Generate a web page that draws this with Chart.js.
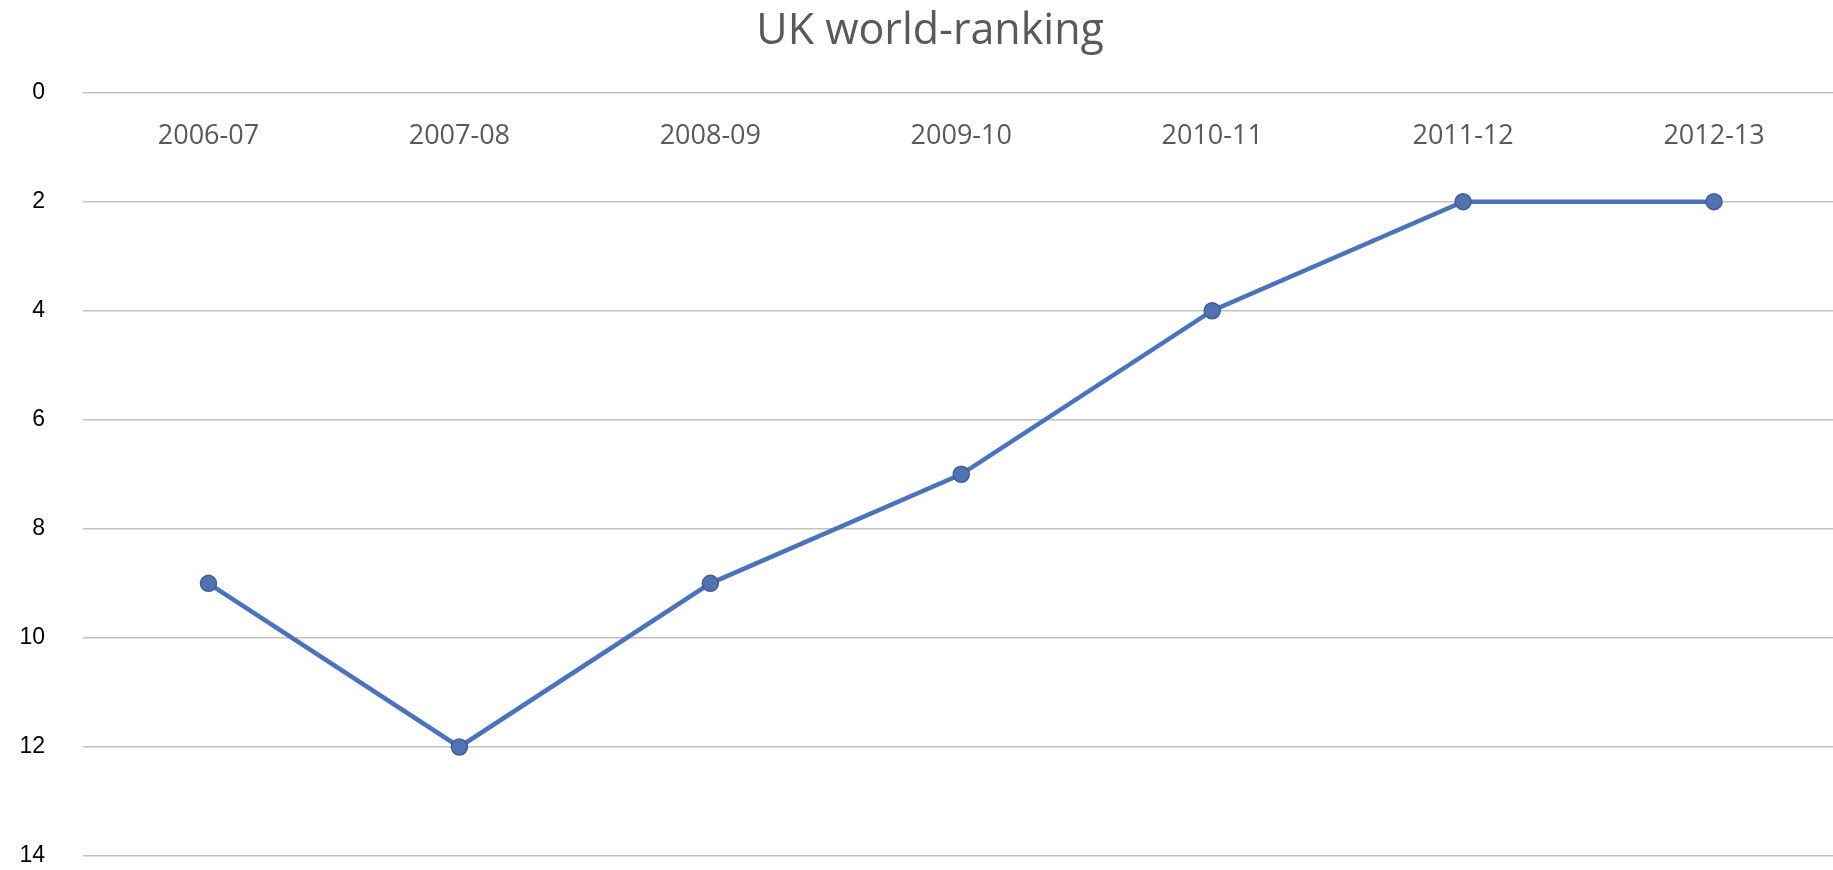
<!DOCTYPE html>
<html>
<head>
<meta charset="utf-8">
<script src="https://cdn.jsdelivr.net/npm/chart.js@4.4.0/dist/chart.umd.min.js"></script>
<style>
  html, body { margin: 0; padding: 0; background: #fff; overflow: hidden; }
  #wrap { width: 1849px; height: 870px; }
</style>
</head>
<body>
<div id="wrap"><canvas id="chart"></canvas></div>
<script>
const seasons = ['2006-07', '2007-08', '2008-09', '2009-10', '2010-11', '2011-12', '2012-13'];
const ranking = [9, 12, 9, 7, 4, 2, 2];
const rankMin = 0;
const rankMax = 14;
const rankStep = 2;

const ctx = document.getElementById('chart').getContext('2d');

// canvas is a bit wider than the window so the last category lands where excel put it
const myChart = new Chart(ctx, {
    type: 'line',
    data: {
        labels: seasons,
        datasets: [{
            label: 'UK world-ranking',
            data: ranking,
            borderColor: '#4a73bb',
            borderWidth: 4.5,
            tension: 0,
            pointRadius: 8,
            pointBackgroundColor: '#5273b0',
            pointBorderColor: '#3e5e98',
            pointBorderWidth: 1.5,
            fill: false
        }]
    },
    options: {
        responsive: true,
        maintainAspectRatio: false,
        animation: false,
        layout: { padding: { left: 0, right: 0, top: 0, bottom: 14 } },
        plugins: {
            legend: { display: false },
            tooltip: { enabled: false },
            title: {
                display: true,
                text: ' UK world-ranking',
                color: '#595959',
                font: { family: 'Open Sans', size: 43, weight: 'normal' },
                padding: { top: 6, bottom: 35 }
            }
        },
        scales: {
            x: {
                position: 'top',
                offset: true,
                grid: { display: false, drawTicks: false },
                border: { display: false },
                ticks: {
                    mirror: true,
                    padding: 28,
                    color: '#595959',
                    font: { family: 'Open Sans', size: 27 },
                    maxRotation: 0
                },
                afterFit: (scale) => {
                    scale.height = 0;
                    scale.paddingLeft = 0;
                    scale.paddingRight = 0;
                }
            },
            y: {
                reverse: true,
                min: rankMin,
                max: rankMax,
                grid: { color: '#c2c2c2', lineWidth: 1.5, drawTicks: false },
                border: { display: false },
                ticks: {
                    stepSize: rankStep,
                    color: '#000000',
                    padding: 38,
                    font: { family: 'Liberation Sans', size: 23 }
                },
                afterFit: (scale) => {
                    scale.width = 83;
                    scale.paddingTop = 0;
                    scale.paddingBottom = 0;
                }
            }
        }
    }
});
</script>
</body>
</html>
